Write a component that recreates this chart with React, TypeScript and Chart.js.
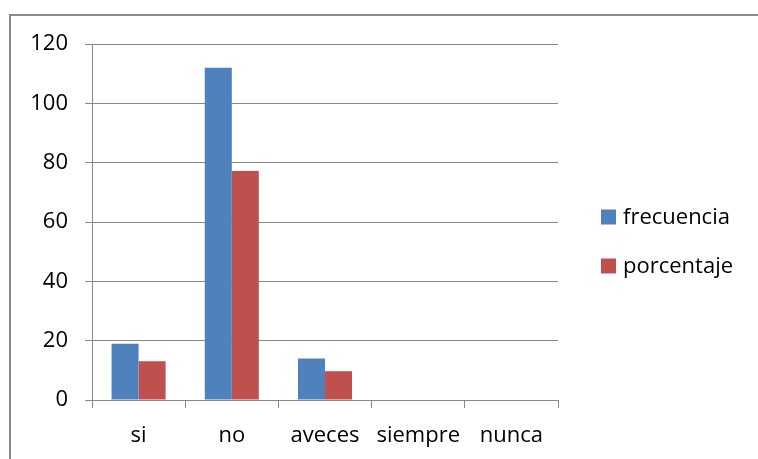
import React, { useEffect, useRef } from "react";
import { Chart, registerables } from "chart.js";

Chart.register(...registerables);

const categories = ["si", "no", "aveces", "siempre", "nunca"];
const frecuencia = [19, 112, 14, 0, 0];
const porcentaje = [13.1, 77.2, 9.7, 0, 0];
const seriesNames = ["frecuencia", "porcentaje"];
const yTicks = { min: 0, max: 120, step: 20 };

const FONT_FAMILY = "'Open Sans', 'Liberation Sans', sans-serif";
const FONT_SIZE = 22;
const GRID = "#888888";

const framePlugin = {
  id: "frame",
  beforeDraw(chart: any) {
    const { ctx, width, height } = chart;
    ctx.save();
    ctx.fillStyle = "#ffffff";
    ctx.fillRect(0, 0, width, height);
    ctx.strokeStyle = "#8a8a8a";
    ctx.lineWidth = 2;
    ctx.beginPath();
    ctx.moveTo(10, height);
    ctx.lineTo(10, 15);
    ctx.lineTo(width, 15);
    ctx.stroke();
    ctx.restore();
  },
};

const legendPlugin = {
  id: "sideLegend",
  afterDraw(chart: any) {
    const { ctx, chartArea } = chart;
    ctx.save();
    ctx.font = `${FONT_SIZE}px ${FONT_FAMILY}`;
    ctx.textBaseline = "middle";
    ctx.textAlign = "left";
    chart.data.datasets.forEach((ds: any, i: number) => {
      const x = chartArea.right + 43;
      const y = chartArea.top + 173 + i * 49;
      ctx.fillStyle = ds.backgroundColor;
      ctx.fillRect(x, y - 7.5, 15, 15);
      ctx.fillStyle = "#000000";
      ctx.fillText(ds.label, x + 22, y + 1);
    });
    ctx.restore();
  },
};

export default function App() {
  const ref = useRef<HTMLCanvasElement | null>(null);

  useEffect(() => {
    if (!ref.current) return;
    const chart = new Chart(ref.current, {
      type: "bar",
      data: {
        labels: categories,
        datasets: [
          {
            label: seriesNames[0],
            data: frecuencia,
            backgroundColor: "#4F81BD",
            categoryPercentage: 0.58,
            barPercentage: 1,
          },
          {
            label: seriesNames[1],
            data: porcentaje,
            backgroundColor: "#C0504D",
            categoryPercentage: 0.58,
            barPercentage: 1,
          },
        ],
      },
      options: {
        responsive: false,
        animation: false,
        layout: { padding: { left: 0, top: 44, right: 200, bottom: 0 } },
        plugins: {
          legend: { display: false },
          tooltip: { enabled: false },
        },
        scales: {
          x: {
            afterFit: (s: any) => {
              s.height = 59;
            },
            grid: {
              display: true,
              drawOnChartArea: false,
              drawTicks: true,
              tickLength: 8,
              color: GRID,
              offset: true,
            },
            border: { display: true, color: GRID, width: 1 },
            ticks: {
              color: "#000000",
              padding: 15,
              font: { family: FONT_FAMILY, size: FONT_SIZE },
              maxRotation: 0,
              autoSkip: false,
            },
          },
          y: {
            min: yTicks.min,
            max: yTicks.max,
            afterFit: (s: any) => {
              s.width = 92;
            },
            grid: {
              color: GRID,
              lineWidth: 1,
              drawTicks: true,
              tickLength: 7,
            },
            border: { display: true, color: GRID, width: 1 },
            ticks: {
              stepSize: yTicks.step,
              color: "#000000",
              padding: 17,
              font: { family: FONT_FAMILY, size: FONT_SIZE },
            },
          },
        },
      },
      plugins: [framePlugin, legendPlugin],
    });
    return () => chart.destroy();
  }, []);

  return (
    <div style={{ position: "fixed", left: 0, top: 0, width: 758, height: 459 }}>
      <canvas ref={ref} width={758} height={459} style={{ display: "block" }} />
    </div>
  );
}
